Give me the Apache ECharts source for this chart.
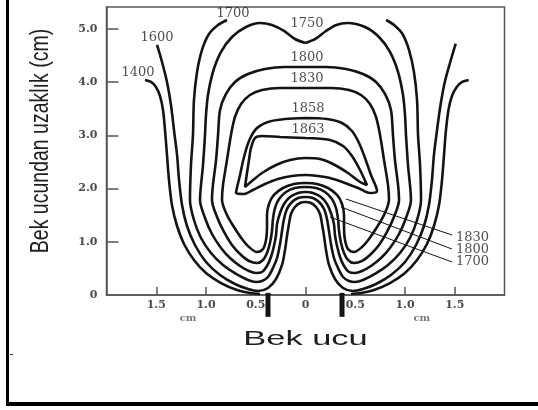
<!DOCTYPE html>
<html><head><meta charset="utf-8">
<script src="https://cdn.jsdelivr.net/npm/echarts@6/dist/echarts.min.js"></script>
<style>html,body{margin:0;padding:0;background:#fff}#c{width:538px;height:410px}</style>
</head><body><div id="c"></div>
<script>
// ---- axis ticks / labels ----
const xLabelValues = [-1.5, -1, -0.5, 0, 0.5, 1, 1.5];
const xLabelTexts  = ['1.5', '1.0', '0.5', '0', '0.5', '1.0', '1.5'];
const xTickValues  = [-1.5, -1, 0, 1, 1.5];
const yLabelValues = [0, 1, 2, 3, 4, 5];
const yLabelTexts  = ['0', '1.0', '2.0', '3.0', '4.0', '5.0'];
const yTickValues  = [1, 2, 3, 4, 5];

// ---- isotherms (x in cm from burner axis, y in cm above burner mouth) ----
const c1400L = [[-1.613,4.039],[-1.553,4.002],[-1.503,3.908],[-1.462,3.738],[-1.432,3.476],[-1.412,3.100],[-1.392,2.630],[-1.372,2.160],[-1.342,1.691],[-1.291,1.296],[-1.221,0.958],[-1.121,0.658],[-1.000,0.413],[-0.849,0.225],[-0.688,0.094],[-0.558,0.038],[-0.457,0.019]];
const c1400R = [[0.457,0.019],[0.558,0.038],[0.688,0.094],[0.849,0.225],[1.000,0.413],[1.121,0.658],[1.221,0.958],[1.291,1.296],[1.342,1.691],[1.372,2.160],[1.392,2.630],[1.412,3.100],[1.437,3.476],[1.472,3.738],[1.520,3.908],[1.575,4.002],[1.640,4.039]];
const c1600 = [[-1.492,4.697],[-1.442,4.377],[-1.392,4.002],[-1.352,3.569],[-1.322,3.100],[-1.291,2.630],[-1.271,2.160],[-1.241,1.691],[-1.191,1.296],[-1.111,0.939],[-1.000,0.620],[-0.859,0.376],[-0.709,0.207],[-0.578,0.113],[-0.477,0.075],[-0.377,0.132],[-0.296,0.301],[-0.236,0.564],[-0.206,0.845],[-0.186,1.108],[-0.166,1.334],[-0.146,1.522],[-0.106,1.653],[-0.055,1.728],[0,1.747],
  [0.055,1.728],[0.106,1.653],[0.146,1.522],[0.166,1.334],[0.186,1.108],[0.206,0.845],[0.236,0.564],[0.296,0.301],[0.377,0.132],[0.477,0.075],[0.578,0.113],[0.709,0.207],[0.859,0.376],[1.000,0.620],[1.111,0.939],[1.191,1.296],[1.241,1.691],[1.271,2.160],[1.291,2.630],[1.322,3.100],[1.357,3.569],[1.400,4.002],[1.455,4.377],[1.510,4.720]];
const c1700 = [[-0.789,5.166],[-0.879,5.072],[-0.970,4.903],[-1.040,4.603],[-1.090,4.189],[-1.121,3.663],[-1.131,3.006],[-1.151,2.442],[-1.161,1.785],[-1.121,1.409],[-1.050,1.071],[-0.950,0.789],[-0.829,0.564],[-0.698,0.395],[-0.578,0.282],[-0.497,0.244],[-0.437,0.263],[-0.377,0.338],[-0.327,0.507],[-0.286,0.695],[-0.256,0.958],[-0.236,1.202],[-0.216,1.428],[-0.186,1.616],[-0.136,1.747],[-0.075,1.822],[0,1.841],
  [0.075,1.822],[0.136,1.747],[0.186,1.616],[0.216,1.428],[0.236,1.202],[0.256,0.958],[0.286,0.695],[0.327,0.507],[0.377,0.338],[0.437,0.263],[0.497,0.244],[0.578,0.282],[0.698,0.395],[0.829,0.564],[0.950,0.789],[1.050,1.071],[1.121,1.409],[1.161,1.785],[1.151,2.442],[1.131,3.006],[1.121,3.663],[1.090,4.189],[1.040,4.603],[0.975,4.903],[0.890,5.072],[0.810,5.166]];
const c1750 = [[0,4.734],[-0.106,4.809],[-0.216,4.960],[-0.337,5.072],[-0.457,5.110],[-0.598,5.035],[-0.739,4.847],[-0.849,4.565],[-0.930,4.189],[-0.980,3.757],[-1.000,3.382],[-1.010,3.006],[-1.030,2.442],[-1.060,1.785],[-1.010,1.447],[-0.940,1.146],[-0.849,0.883],[-0.759,0.695],[-0.658,0.545],[-0.568,0.451],[-0.497,0.413],[-0.437,0.432],[-0.387,0.545],[-0.347,0.714],[-0.317,0.921],[-0.296,1.127],[-0.286,1.334],[-0.256,1.540],[-0.216,1.710],[-0.156,1.841],[-0.075,1.916],[0,1.935],
  [0.075,1.916],[0.156,1.841],[0.216,1.710],[0.256,1.540],[0.286,1.334],[0.296,1.127],[0.317,0.921],[0.347,0.714],[0.387,0.545],[0.437,0.432],[0.497,0.413],[0.568,0.451],[0.658,0.545],[0.759,0.695],[0.849,0.883],[0.940,1.146],[1.010,1.447],[1.060,1.785],[1.030,2.442],[1.010,3.006],[1.000,3.382],[0.980,3.757],[0.930,4.189],[0.849,4.565],[0.739,4.847],[0.598,5.035],[0.420,5.110],[0.310,5.072],[0.206,4.960],[0.100,4.809],[0,4.734]];
const c1800 = [[0,4.283],[-0.206,4.283],[-0.407,4.246],[-0.578,4.152],[-0.709,4.002],[-0.799,3.776],[-0.859,3.476],[-0.879,3.006],[-0.899,2.536],[-0.930,2.067],[-0.940,1.785],[-0.889,1.465],[-0.819,1.184],[-0.739,0.939],[-0.648,0.751],[-0.568,0.639],[-0.487,0.601],[-0.427,0.658],[-0.387,0.789],[-0.357,0.977],[-0.337,1.202],[-0.327,1.428],[-0.307,1.634],[-0.266,1.803],[-0.196,1.935],[-0.106,2.010],[0,2.029],
  [0.106,2.010],[0.196,1.935],[0.266,1.803],[0.307,1.634],[0.327,1.428],[0.337,1.202],[0.357,0.977],[0.387,0.789],[0.427,0.658],[0.487,0.601],[0.568,0.639],[0.648,0.751],[0.739,0.939],[0.819,1.184],[0.889,1.465],[0.940,1.785],[0.930,2.067],[0.899,2.536],[0.879,3.006],[0.859,3.476],[0.799,3.776],[0.709,4.002],[0.578,4.152],[0.407,4.246],[0.206,4.283],[0,4.283]];
const c1830 = [[0,3.889],[-0.256,3.889],[-0.437,3.851],[-0.558,3.757],[-0.648,3.588],[-0.709,3.344],[-0.749,3.006],[-0.789,2.536],[-0.829,2.067],[-0.839,1.785],[-0.789,1.503],[-0.719,1.277],[-0.638,1.052],[-0.568,0.902],[-0.487,0.808],[-0.427,0.864],[-0.397,1.033],[-0.387,1.259],[-0.387,1.503],[-0.367,1.710],[-0.317,1.879],[-0.226,2.010],[-0.116,2.085],[0,2.104],
  [0.116,2.085],[0.226,2.010],[0.317,1.879],[0.367,1.710],[0.387,1.503],[0.387,1.259],[0.397,1.033],[0.427,0.864],[0.487,0.808],[0.568,0.902],[0.638,1.052],[0.719,1.277],[0.789,1.503],[0.839,1.785],[0.829,2.067],[0.789,2.536],[0.749,3.006],[0.709,3.344],[0.648,3.588],[0.558,3.757],[0.437,3.851],[0.256,3.889],[0,3.889]];
const c1858 = [[0,3.325],[-0.206,3.306],[-0.377,3.250],[-0.497,3.119],[-0.568,2.893],[-0.618,2.593],[-0.658,2.254],[-0.698,1.916],[-0.628,1.897],[-0.528,1.973],[-0.407,2.085],[-0.276,2.179],[-0.136,2.236],[0,2.254],
  [0.126,2.236],[0.246,2.198],[0.397,2.104],[0.528,2.010],[0.648,1.916],[0.719,1.954],[0.658,2.254],[0.598,2.574],[0.538,2.856],[0.467,3.081],[0.367,3.231],[0.216,3.306],[0,3.325]];
const c1863 = [[0,2.949],[-0.256,2.968],[-0.437,2.987],[-0.508,2.949],[-0.548,2.762],[-0.568,2.536],[-0.588,2.292],[-0.608,2.029],[-0.538,2.142],[-0.437,2.292],[-0.296,2.442],[-0.156,2.536],[0,2.574],
  [0.146,2.555],[0.276,2.461],[0.427,2.292],[0.548,2.123],[0.618,2.067],[0.548,2.348],[0.467,2.611],[0.377,2.799],[0.246,2.912],[0,2.949]];

// burner tube walls
const rimL = [[-0.377,0.04],[-0.377,-0.41]];
const rimR = [[0.367,0.04],[0.367,-0.41]];

// leader lines to the right-hand labels
const lead1830 = [[0.407,1.803],[1.472,1.127]];
const lead1800 = [[0.357,1.653],[1.472,0.864]];
const lead1700 = [[0.246,1.465],[1.472,0.620]];

// isotherm labels [text, x, y]
const isoLabels = [['1400',-1.683,4.171],['1600',-1.492,4.838],['1700',-0.729,5.279],['1750',0.015,5.091],['1800',0.015,4.452],['1830',0.015,4.058],['1858',0.025,3.494],['1863',0.025,3.100],['1830',1.678,1.080],['1800',1.678,0.845],['1700',1.678,0.620]];
const unitLabels = [['cm',-1.181,-0.432],['cm',1.168,-0.432]];

const chart = echarts.init(document.getElementById('c'), null, {renderer:'canvas'});
const lineCol = '#141414';
function contour(data){
  return {type:'line', data:data, showSymbol:false, symbol:'none', smooth:0.3, silent:true,
          lineStyle:{color:lineCol, width:2.6}, z:3};
}
function thin(data, w){
  return {type:'line', data:data, showSymbol:false, symbol:'none', silent:true, clip:false,
          lineStyle:{color:lineCol, width:w}, z:4};
}
function pick(vals, texts, v){
  const i = vals.findIndex(t => Math.abs(t - v) < 1e-6);
  return i >= 0 ? texts[i] : '';
}
const tickFont = {fontFamily:'DejaVu Serif', fontWeight:'bold', fontSize:11, color:'#4a4a4a'};

chart.setOption({
  animation:false,
  backgroundColor:'#ffffff',
  grid:{left:106.5, top:7, width:398, height:288, show:true, borderColor:'#555', borderWidth:1.5, containLabel:false},
  xAxis:{type:'value', min:-2, max:2, interval:0.5,
    axisLine:{show:true, onZero:false, lineStyle:{color:'#555', width:1.5}},
    axisTick:{show:true, inside:true, length:8, customValues:xTickValues, lineStyle:{color:'#555', width:1.5}},
    axisLabel:Object.assign({customValues:xLabelValues, margin:5, formatter:v => pick(xLabelValues, xLabelTexts, v)}, tickFont),
    splitLine:{show:false}},
  yAxis:{type:'value', min:0, max:5.41, interval:1,
    axisLine:{show:true, onZero:false, lineStyle:{color:'#555', width:1.5}},
    axisTick:{show:true, inside:true, length:12, customValues:yTickValues, lineStyle:{color:'#555', width:1.5}},
    axisLabel:Object.assign({customValues:yLabelValues, margin:9, formatter:v => pick(yLabelValues, yLabelTexts, v)}, tickFont),
    splitLine:{show:false}},
  series:[
    contour(c1400L), contour(c1400R), contour(c1600), contour(c1700), contour(c1750),
    contour(c1800), contour(c1830), contour(c1858), contour(c1863),
    thin(rimL, 5), thin(rimR, 5),
    thin(lead1830, 1), thin(lead1800, 1), thin(lead1700, 1),
    {type:'scatter', symbolSize:0, silent:true, clip:false, z:6,
     data: isoLabels.map(d => [d[1], d[2], d[0]]),
     label:{show:true, position:'inside', formatter:p => p.value[2], fontFamily:'DejaVu Serif', fontSize:13, color:'#222'}},
    {type:'scatter', symbolSize:0, silent:true, clip:false, z:6,
     data: unitLabels.map(d => [d[1], d[2], d[0]]),
     label:{show:true, position:'inside', formatter:p => p.value[2], fontFamily:'DejaVu Serif', fontWeight:'bold', fontSize:10, color:'#555'}}
  ],
  graphic:[
    {type:'rect', shape:{x:6, y:0, width:3, height:406}, style:{fill:'#000'}, silent:true},
    {type:'rect', shape:{x:6, y:402, width:532, height:4}, style:{fill:'#000'}, silent:true},
    {type:'rect', shape:{x:10, y:354, width:3, height:1}, style:{fill:'#333'}, silent:true},
    {type:'text', x:41, y:141, rotation:Math.PI/2, scaleX:1, scaleY:1.3, silent:true,
     style:{text:'Bek ucundan uzaklık (cm)', font:'19.5px "Liberation Sans", Arial, sans-serif', fill:'#1e1e1e',
            align:'center', verticalAlign:'middle', textAlign:'center', textVerticalAlign:'middle'}},
    {type:'text', x:305.5, y:339, scaleX:1.64, scaleY:1, silent:true,
     style:{text:'Bek ucu', font:'21px "Liberation Sans", Arial, sans-serif', fill:'#1e1e1e',
            align:'center', verticalAlign:'middle', textAlign:'center', textVerticalAlign:'middle'}}
  ]
});
</script></body></html>
